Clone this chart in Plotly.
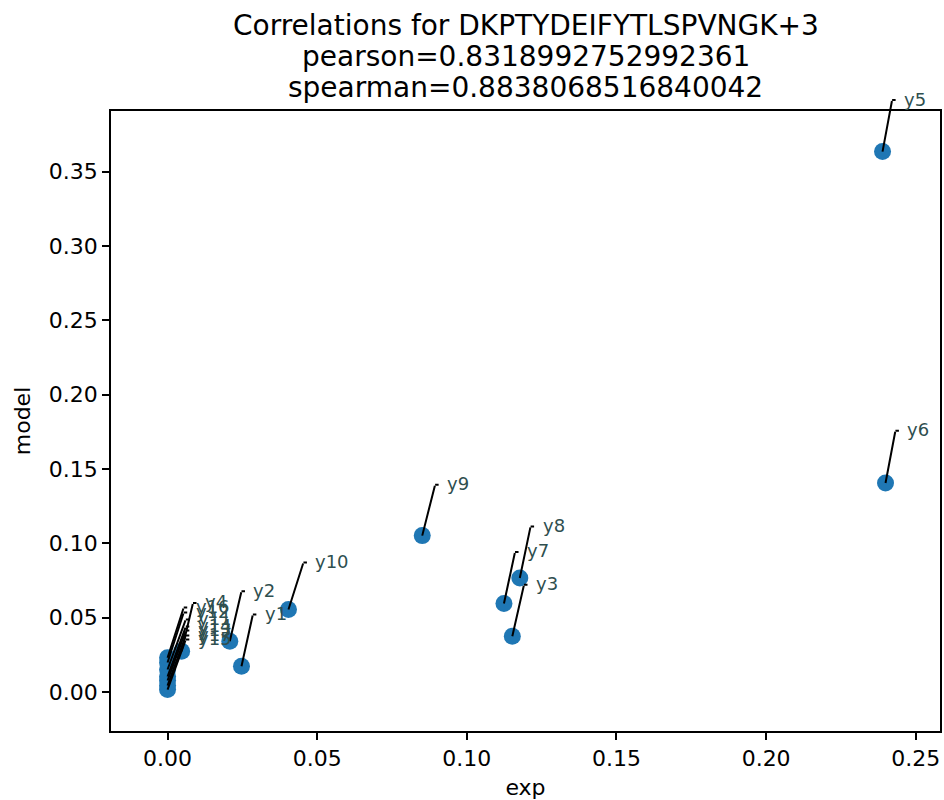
import plotly.graph_objects as go

labels = ["y1", "y2", "y3", "y4", "y5", "y6", "y7", "y8", "y9", "y10",
          "y11", "y12", "y13", "y14", "y15", "y16", "y17"]
exp_vals = [0.0247, 0.0208, 0.1152, 0.0047, 0.2389, 0.2399, 0.1124, 0.1177, 0.0851, 0.0404,
            0.0, 0.0, 0.0, 0.0, 0.0, 0.0, 0.0]
model_vals = [0.0172, 0.0340, 0.0374, 0.0273, 0.3635, 0.1405, 0.0594, 0.0766, 0.1051, 0.0554,
              0.0150, 0.0197, 0.0076, 0.0103, 0.0015, 0.0229, 0.0042]
label_x = [0.0285, 0.0247, 0.1191, 0.0085, 0.2421, 0.2432, 0.1161, 0.1213, 0.0894, 0.0454,
           0.0061, 0.0054, 0.0061, 0.0061, 0.0061, 0.0054, 0.0061]
label_y = [0.0520, 0.0676, 0.0721, 0.0598, 0.3982, 0.1757, 0.0941, 0.1113, 0.1394, 0.0870,
           0.0487, 0.0534, 0.0412, 0.0439, 0.0352, 0.0567, 0.0379]

title_lines = ["Correlations for DKPTYDEIFYTLSPVNGK+3",
               "pearson=0.8318992752992361",
               "spearman=0.8838068516840042"]
x_range = [-0.0189, 0.2581]
y_range = [-0.02636, 0.3908]
x_tick_vals = [0.0, 0.05, 0.10, 0.15, 0.20, 0.25]
y_tick_vals = [0.0, 0.05, 0.10, 0.15, 0.20, 0.25, 0.30, 0.35]

FONT = "DejaVu Sans"

fig = go.Figure()
fig.add_trace(go.Scatter(
    x=exp_vals, y=model_vals, mode="markers",
    marker=dict(color="#1f77b4", size=17, line=dict(width=0)),
    hoverinfo="skip", showlegend=False, cliponaxis=False))


def y_to_paper(v):
    return (v - y_range[0]) / (y_range[1] - y_range[0])


annotations = []
for lab, px, py, lx, ly in zip(labels, exp_vals, model_vals, label_x, label_y):
    # connector line from the point to the label anchor
    annotations.append(dict(
        x=px, y=py, xref="x", yref="y", ax=lx, ay=ly, axref="x", ayref="y",
        text=" ", font=dict(size=1), borderpad=0, showarrow=True,
        arrowhead=0, arrowwidth=2, arrowcolor="black", standoff=0, startstandoff=0))
    # small hook at the top of the connector
    annotations.append(dict(
        x=lx, y=y_to_paper(ly), xref="x", yref="paper", ax=4, ay=0,
        text=" ", font=dict(size=1), borderpad=0, showarrow=True,
        arrowhead=0, arrowwidth=2, arrowcolor="black", standoff=0, startstandoff=0))
    # label text placed at the connector's tail (invisible arrow keeps it visible off-axis)
    annotations.append(dict(
        x=px, y=py, xref="x", yref="y", ax=lx, ay=ly, axref="x", ayref="y",
        text=lab, showarrow=True, arrowcolor="rgba(0,0,0,0)", arrowwidth=0.1, arrowhead=0,
        xanchor="left", yanchor="middle", xshift=10, yshift=1,
        font=dict(family=FONT, size=18, color="#2F4F4F")))

for i, line in enumerate(title_lines):
    annotations.append(dict(
        x=0.5, y=1, xref="paper", yref="paper", text=line, showarrow=False,
        xanchor="center", yanchor="middle", yshift=86 - 31 * i,
        font=dict(family=FONT, size=28, color="black")))

axis_common = dict(
    showline=True, mirror=True, linecolor="black", linewidth=1.7,
    ticks="outside", ticklen=7, tickwidth=1.7, tickcolor="black",
    showgrid=False, zeroline=False, tickformat=".2f",
    tickfont=dict(family=FONT, size=22, color="black"),
)

fig.update_layout(
    width=944, height=800,
    margin=dict(l=111, r=2, t=111, b=69),
    paper_bgcolor="white", plot_bgcolor="white",
    font=dict(family=FONT, color="black"),
    xaxis=dict(range=x_range, tickvals=x_tick_vals,
               title=dict(text="exp", font=dict(family=FONT, size=22), standoff=11),
               **axis_common),
    yaxis=dict(range=y_range, tickvals=y_tick_vals,
               title=dict(text="model", font=dict(family=FONT, size=22), standoff=12),
               **axis_common),
    annotations=annotations,
    showlegend=False,
)

fig.write_html("out.html")
